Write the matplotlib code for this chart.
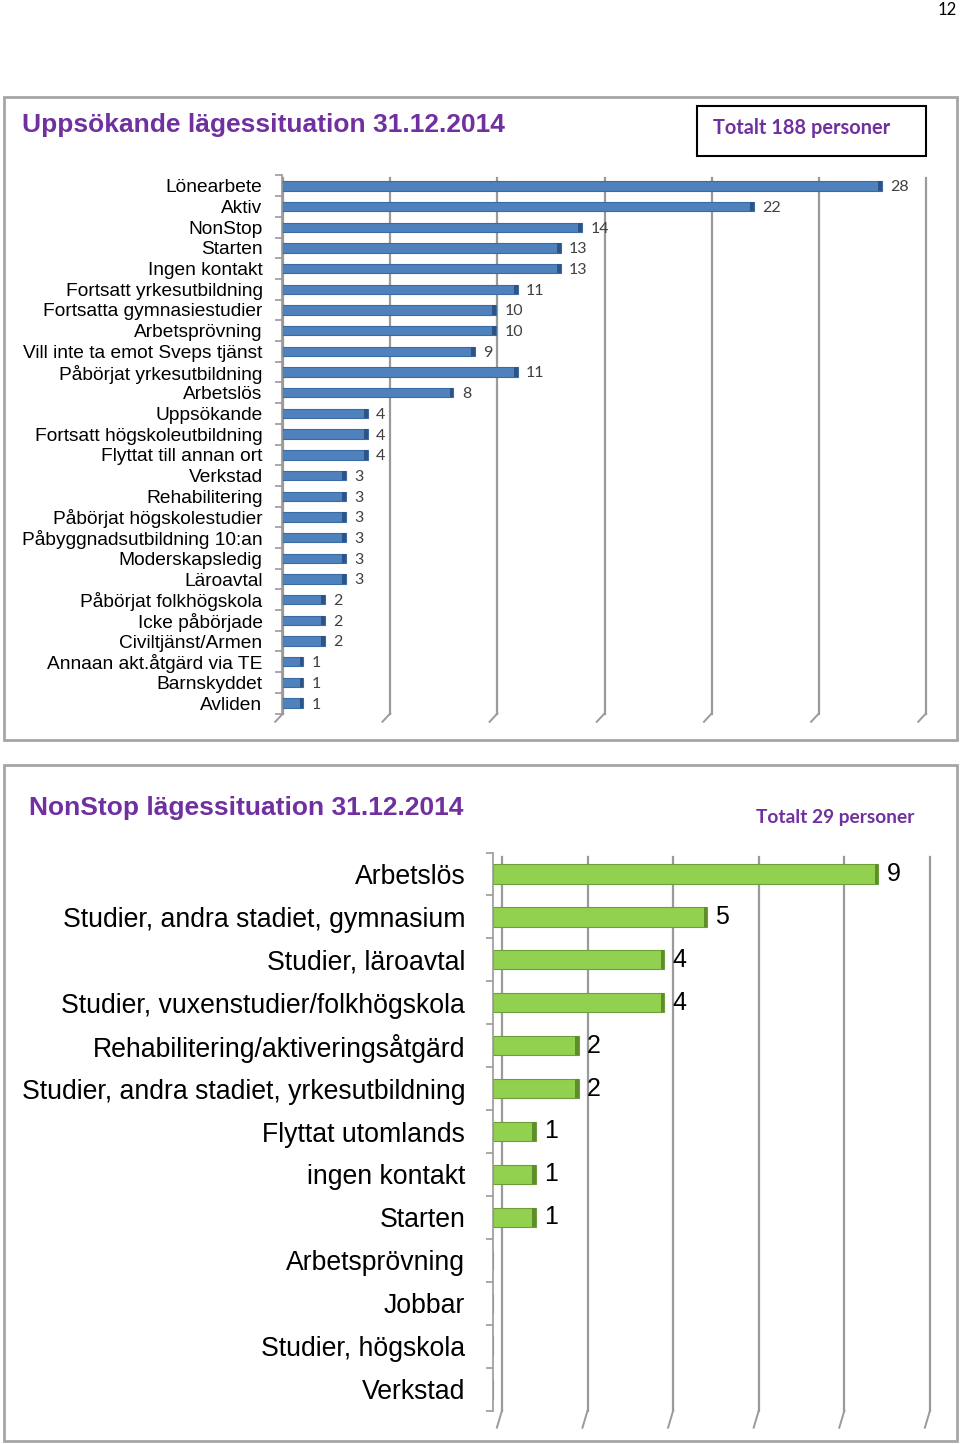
import matplotlib.pyplot as plt
from matplotlib.patches import Rectangle
import matplotlib.transforms as mtransforms
import numpy as np

# top chart data
top_labels = ['Lönearbete', 'Aktiv', 'NonStop', 'Starten', 'Ingen kontakt',
              'Fortsatt yrkesutbildning', 'Fortsatta gymnasiestudier', 'Arbetsprövning',
              'Vill inte ta emot Sveps tjänst', 'Påbörjat yrkesutbildning', 'Arbetslös',
              'Uppsökande', 'Fortsatt högskoleutbildning', 'Flyttat till annan ort',
              'Verkstad', 'Rehabilitering', 'Påbörjat högskolestudier',
              'Påbyggnadsutbildning 10:an', 'Moderskapsledig', 'Läroavtal',
              'Påbörjat folkhögskola', 'Icke påbörjade', 'Civiltjänst/Armen',
              'Annaan akt.åtgärd via TE', 'Barnskyddet', 'Avliden']
top_values = [28, 22, 14, 13, 13, 11, 10, 10, 9, 11, 8, 4, 4, 4, 3, 3, 3, 3, 3, 3, 2, 2, 2, 1, 1, 1]

# bottom chart data
bot_labels = ['Arbetslös', 'Studier, andra stadiet, gymnasium', 'Studier, läroavtal',
              'Studier, vuxenstudier/folkhögskola', 'Rehabilitering/aktiveringsåtgärd',
              'Studier, andra stadiet, yrkesutbildning', 'Flyttat utomlands', 'ingen kontakt',
              'Starten', 'Arbetsprövning', 'Jobbar', 'Studier, högskola', 'Verkstad']
bot_values = [9, 5, 4, 4, 2, 2, 1, 1, 1, 0, 0, 0, 0]

W, H = 960, 1444
PURPLE = '#7030A0'
GRID = '#9A9A9A'

fig = plt.figure(figsize=(W / 100, H / 100), dpi=100)
fig.patch.set_facecolor('white')


def fx(px):
    return px / W


def fy(py):
    return 1 - py / H


def chart_box(x0, y0, x1, y1):
    fig.patches.append(Rectangle((fx(x0), fy(y1)), fx(x1 - x0), (y1 - y0) / H,
                                 transform=fig.transFigure, fill=False,
                                 edgecolor='#A6A6A6', linewidth=2))


def setup_axes(ax, labels, xmax, step, fontsize, pad, shift_px):
    n = len(labels)
    ax.set_xlim(0, xmax)
    ax.set_ylim(n - 0.5, -0.5)
    ax.set_xticks([])
    ax.set_yticks(range(n))
    ax.set_yticklabels(labels, fontsize=fontsize, family='Liberation Sans')
    ax.set_yticks(np.arange(-0.5, n, 1), minor=True)
    ax.tick_params(axis='y', which='major', length=0, pad=pad)
    ax.tick_params(axis='y', which='minor', length=5, color=GRID, width=1.2)
    for s in ['top', 'right', 'bottom']:
        ax.spines[s].set_visible(False)
    ax.spines['left'].set_color(GRID)
    ax.spines['left'].set_linewidth(1.2)
    # back-wall gridlines, shifted a little to the right (3D look)
    tr = mtransforms.offset_copy(ax.transData, fig=fig, x=shift_px / 100, y=0, units='inches')
    for xv in np.arange(0, xmax + step, step):
        ax.plot([xv, xv], [-0.5 + 0.1, n - 0.5], color=GRID, linewidth=1.6,
                transform=tr, clip_on=False, zorder=0)
        # small perspective foot under each gridline
        ax.plot([xv, xv - xmax * 0.012], [n - 0.5, n - 0.5 + 0.4],
                color=GRID, linewidth=1.4, transform=tr, clip_on=False, zorder=0)


# ---------- top chart ----------
chart_box(4, 97, 957, 740)
fig.text(fx(22), fy(125), 'Uppsökande lägessituation 31.12.2014', fontsize=19,
         fontweight='bold', color=PURPLE, family='Liberation Sans', va='center')
fig.patches.append(Rectangle((fx(697), fy(156)), fx(229), 50 / H, transform=fig.transFigure,
                             fill=False, edgecolor='black', linewidth=1.5))
fig.text(fx(713), fy(128), 'Totalt 188 personer', fontsize=14.4, fontweight='bold',
         color=PURPLE, family='Lato', va='center')

ax1 = fig.add_axes([fx(282), fy(713.5), fx(925 - 282), (713.5 - 175.5) / H])
setup_axes(ax1, top_labels, 30, 5, 13.8, 14, 1)
y1 = np.arange(len(top_values))
ax1.barh(y1, top_values, height=0.45, color='#4F81BD', edgecolor='#3A6BA5', linewidth=0.8)
ax1.barh(y1, [0.18] * len(top_values), left=np.array(top_values) - 0.18, height=0.45,
         color='#2C5487')
for yi, v in zip(y1, top_values):
    ax1.annotate(str(v), (v, yi), xytext=(6, -1), textcoords='offset points',
                 va='center', ha='left', fontsize=11.5, color='#404040', family='Lato')

# ---------- bottom chart ----------
chart_box(4, 765, 957, 1441)
fig.text(fx(29), fy(808), 'NonStop lägessituation 31.12.2014', fontsize=19,
         fontweight='bold', color=PURPLE, family='Liberation Sans', va='center')
fig.text(fx(756), fy(817), 'Totalt 29 personer', fontsize=13.8, fontweight='bold',
         color=PURPLE, family='Lato', va='center')

ax2 = fig.add_axes([fx(493), fy(1410.5), fx(921 - 493), (1410.5 - 852.5) / H])
setup_axes(ax2, bot_labels, 10, 2, 19.2, 20, 9)
y2 = np.arange(len(bot_values))
ax2.barh(y2, bot_values, height=0.45, color='#92D050', edgecolor='#6E9E3A', linewidth=0.8)
ax2.barh(y2, [0.08] * len(bot_values), left=np.array(bot_values) - 0.08, height=0.45,
         color='#5E8E2A')
for yi, v in zip(y2, bot_values):
    if v > 0:
        ax2.annotate(str(v), (v, yi), xytext=(6, 0), textcoords='offset points',
                     va='center', ha='left', fontsize=18, color='black',
                     family='Liberation Sans')

# page number
fig.text(fx(947), fy(10), '12', fontsize=12, ha='center', va='center', family='Lato')

fig.savefig('out.png', dpi=100)
